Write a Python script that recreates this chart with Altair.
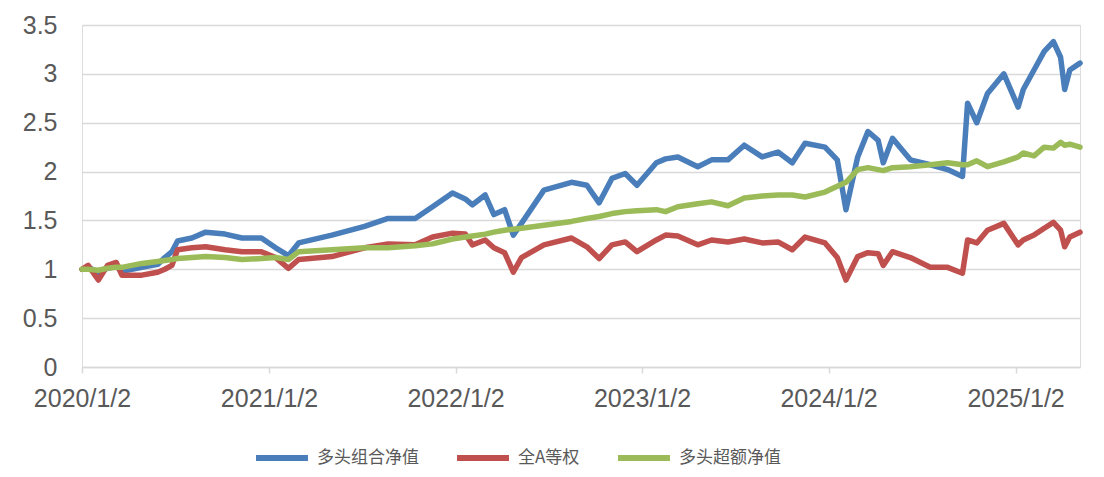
import altair as alt
import pandas as pd

dates = [
    "2020-01-02", "2020-01-14", "2020-02-03", "2020-02-21", "2020-03-09", "2020-03-20",
    "2020-04-28", "2020-05-29", "2020-06-12", "2020-06-26", "2020-07-07", "2020-08-04",
    "2020-08-31", "2020-10-08", "2020-11-10", "2020-12-18", "2021-01-15", "2021-02-09",
    "2021-03-01", "2021-05-05", "2021-07-08", "2021-08-23", "2021-10-15", "2021-11-18",
    "2021-12-27", "2022-01-21", "2022-02-04", "2022-03-01", "2022-03-18", "2022-04-08",
    "2022-04-25", "2022-05-11", "2022-06-24", "2022-08-17", "2022-09-16", "2022-10-10",
    "2022-11-04", "2022-11-30", "2022-12-23", "2023-01-30", "2023-02-17", "2023-03-13",
    "2023-04-21", "2023-05-18", "2023-06-19", "2023-07-21", "2023-08-25", "2023-09-25",
    "2023-10-23", "2023-11-17", "2023-12-26", "2024-01-19", "2024-02-05", "2024-02-28",
    "2024-03-19", "2024-04-08", "2024-04-18", "2024-05-06", "2024-06-10", "2024-07-19",
    "2024-08-22", "2024-09-20", "2024-09-30", "2024-10-18", "2024-11-08", "2024-12-10",
    "2025-01-07", "2025-01-17", "2025-02-07", "2025-02-27", "2025-03-17", "2025-03-31",
    "2025-04-08", "2025-04-18", "2025-05-08",
]

long_nav = [
    1.00, 1.02, 0.97, 1.01, 1.03, 0.98,
    1.02, 1.05, 1.12, 1.18, 1.29, 1.32,
    1.38, 1.36, 1.32, 1.32, 1.22, 1.14,
    1.27, 1.35, 1.44, 1.52, 1.52, 1.64,
    1.78, 1.72, 1.66, 1.76, 1.56, 1.61,
    1.35, 1.47, 1.81, 1.89, 1.86, 1.68,
    1.93, 1.98, 1.86, 2.09, 2.13, 2.15,
    2.05, 2.12, 2.12, 2.27, 2.15, 2.20,
    2.09, 2.29, 2.25, 2.12, 1.61, 2.15,
    2.41, 2.32, 2.09, 2.34, 2.12, 2.07,
    2.02, 1.95, 2.70, 2.50, 2.80, 3.00,
    2.66, 2.84, 3.04, 3.23, 3.33, 3.17,
    2.84, 3.04, 3.11,
]

all_a_equal = [
    1.00, 1.04, 0.89, 1.04, 1.07, 0.94,
    0.94, 0.97, 1.00, 1.04, 1.20, 1.22,
    1.23, 1.20, 1.18, 1.18, 1.12, 1.01,
    1.10, 1.13, 1.22, 1.26, 1.25, 1.33,
    1.37, 1.36, 1.25, 1.30, 1.22, 1.17,
    0.97, 1.12, 1.25, 1.32, 1.23, 1.11,
    1.25, 1.28, 1.18, 1.30, 1.35, 1.34,
    1.25, 1.30, 1.28, 1.31, 1.27, 1.28,
    1.20, 1.33, 1.27, 1.12, 0.89, 1.13,
    1.17, 1.16, 1.04, 1.18, 1.12, 1.02,
    1.02, 0.96, 1.30, 1.27, 1.40, 1.47,
    1.25, 1.30, 1.35, 1.42, 1.48, 1.40,
    1.23, 1.33, 1.38,
]

excess_nav = [
    1.00, 1.00, 0.99, 1.01, 1.02, 1.02,
    1.06, 1.08, 1.09, 1.10, 1.11, 1.12,
    1.13, 1.12, 1.10, 1.11, 1.12, 1.10,
    1.18, 1.20, 1.22, 1.22, 1.24, 1.26,
    1.31, 1.33, 1.34, 1.36, 1.38, 1.40,
    1.41, 1.42, 1.45, 1.49, 1.52, 1.54,
    1.57, 1.59, 1.60, 1.61, 1.59, 1.64,
    1.67, 1.69, 1.65, 1.73, 1.75, 1.76,
    1.76, 1.74, 1.79, 1.85, 1.89, 2.02,
    2.04, 2.02, 2.01, 2.04, 2.05, 2.07,
    2.09, 2.07, 2.07, 2.11, 2.05, 2.10,
    2.15, 2.19, 2.16, 2.25, 2.24, 2.30,
    2.27, 2.28, 2.25,
]

series_names = ["多头组合净值", "全A等权", "多头超额净值"]
series_colors = ["#4A7EBB", "#C0504D", "#9BBB59"]
x_ticks = ["2020-01-02", "2021-01-02", "2022-01-02", "2023-01-02", "2024-01-02", "2025-01-02"]
y_ticks = [0, 0.5, 1, 1.5, 2, 2.5, 3, 3.5]

rows = []
for name, vals in zip(series_names, [long_nav, all_a_equal, excess_nav]):
    for d, v in zip(dates, vals):
        rows.append({"date": d, "value": v, "series": name})
df = pd.DataFrame(rows)

x_tick_vals = [alt.DateTime(year=int(t[:4]), month=int(t[5:7]), date=int(t[8:10]), utc=True) for t in x_ticks]

chart = (
    alt.Chart(df)
    .mark_line(strokeWidth=5.5, strokeJoin="round", strokeCap="round")
    .encode(
        x=alt.X(
            "date:T",
            scale=alt.Scale(
                type="utc",
                domain=[
                    alt.DateTime(year=2020, month=1, date=2, utc=True),
                    alt.DateTime(year=2025, month=5, date=8, utc=True),
                ],
                nice=False,
            ),
            axis=alt.Axis(
                values=x_tick_vals,
                labelExpr="utcFormat(datum.value, '%Y/%-m/%-d')",
                title=None,
                grid=False,
                domainColor="#D9D9D9",
                domainWidth=1.5,
                tickColor="#D9D9D9",
                tickWidth=1.5,
                tickSize=6,
                labelFont="Liberation Sans",
                labelFontSize=25,
                labelColor="#595959",
                labelPadding=13,
                labelOverlap=False,
                labelFlush=False,
            ),
        ),
        y=alt.Y(
            "value:Q",
            scale=alt.Scale(domain=[0, 3.5], nice=False),
            axis=alt.Axis(
                values=y_ticks,
                format="~g",
                title=None,
                domain=False,
                ticks=False,
                gridColor="#D9D9D9",
                gridWidth=1.5,
                labelFont="Liberation Sans",
                labelFontSize=25,
                labelColor="#595959",
                labelPadding=25,
            ),
        ),
        color=alt.Color(
            "series:N",
            scale=alt.Scale(domain=series_names, range=series_colors),
            legend=alt.Legend(
                title=None,
                orient="none",
                direction="horizontal",
                legendX=171,
                legendY=404,
                symbolType="stroke",
                symbolStrokeWidth=6,
                symbolSize=2700,
                labelFont="Noto Sans CJK SC",
                labelFontSize=17,
                labelColor="#595959",
                labelOffset=6,
                columnPadding=26,
                padding=0,
            ),
        ),
        order=alt.Order("date:T"),
    )
    .properties(
        width=998,
        height=342,
        autosize=alt.AutoSizeParams(type="none"),
        padding={"left": 74, "top": 17, "right": 16, "bottom": 102},
    )
    .configure_view(stroke=None)
    .configure(background="white")
)

chart.save("out.html", embed_options={"renderer": "svg", "actions": False})
